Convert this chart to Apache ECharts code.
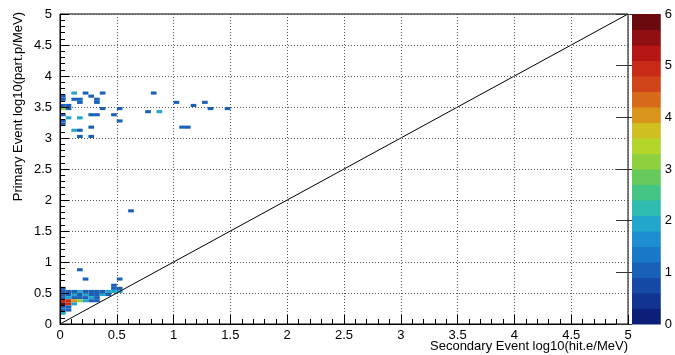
<!DOCTYPE html>
<html>
<head>
<meta charset="utf-8">
<script src="https://cdn.jsdelivr.net/npm/echarts@6/dist/echarts.min.js"></script>
<style>
  html, body { margin: 0; padding: 0; background: #fff; }
  #main { width: 675px; height: 355px; }
</style>
</head>
<body>
<div id="main"></div>
<script>
// bin size of the 2D histogram (log10 units)
var binW = 0.05;

// lower edge of each filled bin: x, y, and its content
var cellX = [
    0.00, 0.00, 0.10, 0.10, 0.15, 0.15, 0.20, 0.25, 0.30, 0.30, 0.35, 0.80,
    0.00, 0.05, 0.00, 0.05, 0.35, 0.50, 1.00, 1.15, 1.25, 1.30, 1.45,
    0.75, 0.85, 0.00, 0.25, 0.30, 0.45, 0.05, 0.15, 0.50, 0.00, 0.00,
    0.25, 1.05, 1.10, 0.10, 0.15, 0.15, 0.25, 0.60,
    0.15, 0.20, 0.50, 0.45, 0.00, 0.45, 0.50,
    0.00, 0.05, 0.10, 0.15, 0.20, 0.25, 0.30, 0.35, 0.40, 0.45, 0.50,
    0.00, 0.05, 0.10, 0.15, 0.20, 0.25, 0.30, 0.35, 0.40,
    0.00, 0.05, 0.10, 0.15, 0.20, 0.25, 0.30,
    0.00, 0.05, 0.10, 0.15, 0.20, 0.25, 0.30,
    0.00, 0.05, 0.10,
    0.00, 0.05, 0.00, 0.05, 0.00
];
var cellY = [
    3.65, 3.60, 3.70, 3.60, 3.60, 3.55, 3.70, 3.65, 3.60, 3.55, 3.70, 3.70,
    3.50, 3.50, 3.45, 3.45, 3.45, 3.45, 3.55, 3.50, 3.55, 3.45, 3.45,
    3.40, 3.40, 3.35, 3.35, 3.35, 3.35, 3.30, 3.30, 3.25, 3.25, 3.20,
    3.15, 3.15, 3.15, 3.10, 3.10, 3.00, 3.00, 1.80,
    0.85, 0.70, 0.70, 0.60, 0.55, 0.55, 0.55,
    0.50, 0.50, 0.50, 0.50, 0.50, 0.50, 0.50, 0.50, 0.50, 0.50, 0.50,
    0.45, 0.45, 0.45, 0.45, 0.45, 0.45, 0.45, 0.45, 0.45,
    0.40, 0.40, 0.40, 0.40, 0.40, 0.40, 0.40,
    0.35, 0.35, 0.35, 0.35, 0.35, 0.35, 0.35,
    0.30, 0.30, 0.30,
    0.25, 0.25, 0.20, 0.20, 0.15
];
var cellN = [
    1, 1, 2, 1, 1, 1, 1, 1, 1, 1, 1, 1,
    1, 1, 3, 1, 1, 1, 1, 1, 1, 1, 1,
    1, 2, 1, 1, 1, 1, 2, 2, 1, 1, 1,
    1, 1, 1, 2, 1, 1, 1, 1,
    1, 1, 1, 1, 1, 1, 1,
    1, 1, 1, 2, 1, 1, 1, 1, 2, 2, 2,
    1, 1, 2, 1, 2, 1, 1, 2, 1,
    1, 2, 1, 1, 1, 2, 1,
    5, 5, 4, 3, 2, 1, 1,
    6, 5, 2,
    1, 1, 1, 1, 2
];

// diagonal y = x
var diagonal = [[0, 0], [5, 5]];

// colour palette (20 contour levels from 0 to 6)
var zMax = 6;
var palette = [
    '#0b1f78', '#103490', '#144aa6', '#1860b8', '#1a78c8',
    '#1d8fd0', '#22a6cb', '#2fbcb0', '#45c585', '#66c95a',
    '#8fd03e', '#b4d52a', '#cfbf20', '#d9941c', '#d86a1c',
    '#d04419', '#c82a17', '#b51513', '#8f0f12', '#6b0a0e'
];

function colorOf(v) {
    var i = Math.floor(v / zMax * palette.length);
    if (i > palette.length - 1) i = palette.length - 1;
    return palette[i];
}

var cells = [];
for (var i = 0; i < cellN.length; i++) {
    cells.push([cellX[i], cellY[i], cellN[i]]);
}
var bands = [];
for (var k = 0; k < palette.length; k++) {
    bands.push([k * zMax / palette.length, (k + 1) * zMax / palette.length, k]);
}

var font = 'Liberation Sans, Arial, Helvetica, sans-serif';
var myChart = echarts.init(document.getElementById('main'), null, {renderer: 'canvas'});

var option = {
    animation: false,
    backgroundColor: '#fff',
    textStyle: {fontFamily: font},
    grid: [
        {left: 60, right: 47, top: 14, bottom: 31, show: true, borderColor: '#000', borderWidth: 1, backgroundColor: 'transparent'},
        {left: 632, right: 12, top: 14, bottom: 31}
    ],
    xAxis: [
        {
            type: 'value', gridIndex: 0, min: 0, max: 5, interval: 0.5, z: 5,
            axisLine: {lineStyle: {color: '#000', width: 1}},
            axisTick: {inside: true, length: 9, lineStyle: {color: '#000'}},
            minorTick: {show: true, splitNumber: 5, length: 5, lineStyle: {color: '#000'}},
            axisLabel: {color: '#000', fontSize: 13, margin: 5, fontFamily: font},
            splitLine: {show: true, lineStyle: {color: '#555', type: [1, 2]}}
        },
        {type: 'value', gridIndex: 1, min: 0, max: 1, show: false}
    ],
    yAxis: [
        {
            type: 'value', gridIndex: 0, min: 0, max: 5, interval: 0.5, z: 5,
            axisLine: {show: true, lineStyle: {color: '#000', width: 1}},
            axisTick: {show: true, inside: true, length: 9, lineStyle: {color: '#000'}},
            minorTick: {show: true, splitNumber: 5, length: 5, lineStyle: {color: '#000'}},
            axisLabel: {color: '#000', fontSize: 13, margin: 8, fontFamily: font},
            splitLine: {show: true, lineStyle: {color: '#555', type: [1, 2]}}
        },
        {
            type: 'value', gridIndex: 1, min: 0, max: 6, interval: 1, position: 'right', z: 10,
            axisLine: {show: false},
            axisTick: {show: true, inside: true, length: 16, lineStyle: {color: '#333'}},
            axisLabel: {color: '#000', fontSize: 13, margin: 4, fontFamily: font},
            splitLine: {show: false}
        }
    ],
    graphic: [
        {
            type: 'text', x: 18, y: 12, rotation: Math.PI / 2,
            style: {text: 'Primary Event log10(part.p/MeV)', fontSize: 13, fontFamily: font, fill: '#000', align: 'right', verticalAlign: 'middle'}
        },
        {
            type: 'text', x: 628, y: 346,
            style: {text: 'Secondary Event log10(hit.e/MeV)', fontSize: 13, fontFamily: font, fill: '#000', align: 'right', verticalAlign: 'middle'}
        }
    ],
    series: [
        {
            type: 'custom',
            xAxisIndex: 0, yAxisIndex: 0,
            clip: true,
            data: cells,
            renderItem: function (params, api) {
                var p0 = api.coord([api.value(0), api.value(1)]);
                var p1 = api.coord([api.value(0) + binW, api.value(1) + binW]);
                return {
                    type: 'rect',
                    shape: {x: p0[0], y: p1[1], width: p1[0] - p0[0], height: p0[1] - p1[1]},
                    style: {fill: colorOf(api.value(2))}
                };
            }
        },
        {
            type: 'line',
            xAxisIndex: 0, yAxisIndex: 0,
            data: diagonal,
            symbol: 'none',
            z: 4,
            lineStyle: {color: '#000', width: 1}
        },
        {
            type: 'custom',
            xAxisIndex: 1, yAxisIndex: 1,
            data: bands,
            renderItem: function (params, api) {
                var p0 = api.coord([0, api.value(0)]);
                var p1 = api.coord([1, api.value(1)]);
                return {
                    type: 'rect',
                    shape: {x: p0[0], y: p1[1], width: p1[0] - p0[0], height: p0[1] - p1[1] + 0.5},
                    style: {fill: palette[api.value(2)]}
                };
            }
        }
    ]
};
myChart.setOption(option);
</script>
</body>
</html>
